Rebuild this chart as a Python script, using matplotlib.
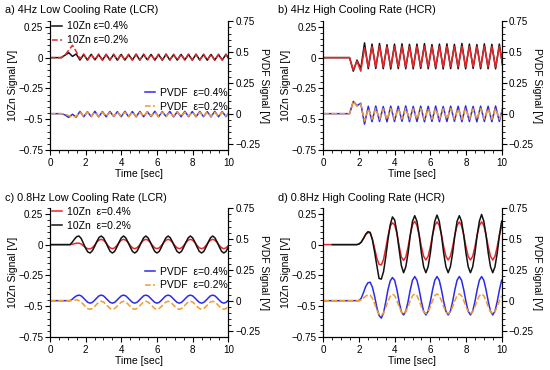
import numpy as np
import matplotlib
matplotlib.use("Agg")
import matplotlib.pyplot as plt
from matplotlib.ticker import MultipleLocator, FuncFormatter
from matplotlib.lines import Line2D

plt.rcParams['font.family'] = ['Liberation Sans', 'DejaVu Sans']
plt.rcParams['font.size'] = 7.5

# sample times (4Hz runs read every 0.21 s, 0.8Hz runs every 0.125 s)
t_fast = np.arange(49) * 0.21
t_slow = np.arange(81) * 0.125

# a) 4Hz LCR
a_zn04 = [0, 0, 0, 0, 0.02, 0.04, 0.01, 0.03, -0.02,
          0.025, -0.02, 0.027, -0.018, 0.024, -0.02, 0.026, -0.019, 0.025, -0.021,
          0.026, -0.02, 0.024, -0.019, 0.027, -0.02, 0.025, -0.018, 0.026, -0.02,
          0.025, -0.021, 0.027, -0.019, 0.024, -0.02, 0.026, -0.018, 0.025, -0.02,
          0.027, -0.019, 0.025, -0.021, 0.026, -0.02, 0.024, -0.019, 0.026, -0.02]
a_zn02 = [0, 0, 0, 0, 0.02, 0.06, 0.1, 0.05, -0.01,
          0.03, -0.02, 0.028, -0.019, 0.03, -0.021, 0.027, -0.02, 0.029, -0.018,
          0.03, -0.02, 0.028, -0.021, 0.029, -0.019, 0.03, -0.02, 0.027, -0.02,
          0.029, -0.018, 0.03, -0.02, 0.028, -0.021, 0.029, -0.019, 0.03, -0.02,
          0.028, -0.02, 0.029, -0.019, 0.03, -0.021, 0.028, -0.02, 0.029, -0.019]
a_pv04 = [0, 0, 0, 0, -0.01, -0.03, -0.005, -0.028,
          0.018, -0.025, 0.016, -0.024, 0.019, -0.026, 0.017, -0.025, 0.018, -0.023,
          0.016, -0.025, 0.019, -0.024, 0.017, -0.026, 0.018, -0.025, 0.016, -0.024,
          0.019, -0.025, 0.017, -0.023, 0.018, -0.026, 0.016, -0.025, 0.019, -0.024,
          0.017, -0.025, 0.018, -0.024, 0.016, -0.026, 0.019, -0.025, 0.017, -0.024,
          0.018]
a_pv02 = [0, 0, 0, 0, -0.005, -0.015, -0.03, -0.02,
          0.012, -0.022, 0.014, -0.021, 0.011, -0.023, 0.013, -0.022, 0.012, -0.02,
          0.014, -0.022, 0.012, -0.023, 0.013, -0.021, 0.011, -0.022, 0.014, -0.02,
          0.012, -0.022, 0.013, -0.023, 0.011, -0.021, 0.014, -0.022, 0.012, -0.02,
          0.013, -0.022, 0.012, -0.023, 0.014, -0.021, 0.011, -0.022, 0.013, -0.02,
          0.012]

# b) 4Hz HCR
b_zn_black = [0, 0, 0, 0, 0, 0, 0, 0, -0.11, -0.02, -0.09, 0.12,
              -0.09, 0.11, -0.088, 0.115, -0.09, 0.105, -0.092, 0.11, -0.089, 0.112,
              -0.09, 0.108, -0.091, 0.11, -0.088, 0.114, -0.09, 0.106, -0.09, 0.11,
              -0.092, 0.112, -0.089, 0.108, -0.09, 0.115, -0.091, 0.11, -0.088, 0.106,
              -0.09, 0.112, -0.09, 0.108, -0.091, 0.11, -0.09]
b_zn_red = [0, 0, 0, 0, 0, 0, 0, 0, -0.1, -0.03, -0.11, 0.08,
            -0.075, 0.09, -0.073, 0.092, -0.076, 0.088, -0.075, 0.09, -0.074, 0.091,
            -0.075, 0.089, -0.076, 0.09, -0.073, 0.092, -0.075, 0.088, -0.075, 0.09,
            -0.076, 0.091, -0.074, 0.089, -0.075, 0.092, -0.076, 0.09, -0.073, 0.088,
            -0.075, 0.091, -0.075, 0.089, -0.076, 0.09, -0.075]
b_pv_blue = [0, 0, 0, 0, 0, 0, 0, 0, 0.1, 0.065, 0.085, -0.085,
             0.06, -0.065, 0.062, -0.063, 0.058, -0.066, 0.061, -0.064, 0.06, -0.062,
             0.063, -0.065, 0.059, -0.064, 0.061, -0.066, 0.06, -0.063, 0.062, -0.065,
             0.058, -0.064, 0.061, -0.062, 0.06, -0.065, 0.063, -0.064, 0.059, -0.066,
             0.061, -0.063, 0.06, -0.065, 0.062, -0.064, 0.06]
b_pv_orange = [0, 0, 0, 0, 0, 0, 0, 0, 0.1, 0.06, 0.08, -0.06,
               0.04, -0.045, 0.042, -0.044, 0.039, -0.046, 0.041, -0.045, 0.04, -0.043,
               0.042, -0.045, 0.039, -0.044, 0.041, -0.046, 0.04, -0.045, 0.042, -0.044,
               0.039, -0.045, 0.041, -0.043, 0.04, -0.046, 0.042, -0.044, 0.039, -0.045,
               0.041, -0.044, 0.04, -0.046, 0.042, -0.045, 0.04]

# c) 0.8Hz LCR
c_zn04 = [0, 0, 0, 0, 0, 0, 0, 0, 0, 0,
          0.003, 0.008, 0.012, 0.012, 0.005, -0.01, -0.025, -0.033, -0.035, -0.025,
          -0.005, 0.02, 0.037, 0.043,
          0.036, 0.017, -0.007, -0.026, -0.033, -0.026, -0.007, 0.017, 0.036, 0.043,
          0.036, 0.017, -0.007, -0.026, -0.033, -0.026, -0.007, 0.017, 0.036, 0.043,
          0.036, 0.017, -0.007, -0.026, -0.033, -0.026, -0.007, 0.017, 0.036, 0.043,
          0.036, 0.017, -0.007, -0.026, -0.033, -0.026, -0.007, 0.017, 0.036, 0.043,
          0.036, 0.017, -0.007, -0.026, -0.033, -0.026, -0.007, 0.017, 0.036, 0.043,
          0.036, 0.017, -0.007, -0.026, -0.033, -0.026, -0.007]
c_zn02 = [0, 0, 0, 0, 0, 0, 0, 0, 0, 0,
          0.02, 0.045, 0.065, 0.07, 0.05, 0.01, -0.03, -0.06, -0.068, -0.05,
          -0.015, 0.025, 0.058, 0.07,
          0.055, 0.02, -0.02, -0.055, -0.068, -0.055, -0.02, 0.02, 0.055, 0.07,
          0.055, 0.02, -0.02, -0.055, -0.068, -0.055, -0.02, 0.02, 0.055, 0.07,
          0.055, 0.02, -0.02, -0.055, -0.068, -0.055, -0.02, 0.02, 0.055, 0.07,
          0.055, 0.02, -0.02, -0.055, -0.068, -0.055, -0.02, 0.02, 0.055, 0.07,
          0.055, 0.02, -0.02, -0.055, -0.068, -0.055, -0.02, 0.02, 0.055, 0.07,
          0.055, 0.02, -0.02, -0.055, -0.068, -0.055, -0.02]
c_pv04 = [0, 0, 0, 0, 0, 0, 0, 0, 0, 0,
          0.012, 0.028, 0.04, 0.045,
          0.039, 0.022, 0.003, -0.014, -0.02, -0.014, 0.003, 0.022, 0.039, 0.045,
          0.039, 0.022, 0.003, -0.014, -0.02, -0.014, 0.003, 0.022, 0.039, 0.045,
          0.039, 0.022, 0.003, -0.014, -0.02, -0.014, 0.003, 0.022, 0.039, 0.045,
          0.039, 0.022, 0.003, -0.014, -0.02, -0.014, 0.003, 0.022, 0.039, 0.045,
          0.039, 0.022, 0.003, -0.014, -0.02, -0.014, 0.003, 0.022, 0.039, 0.045,
          0.039, 0.022, 0.003, -0.014, -0.02, -0.014, 0.003, 0.022, 0.039, 0.045,
          0.039, 0.022, 0.003, -0.014, -0.02, -0.014, 0.003]
c_pv02 = [0, 0, 0, 0, 0, 0, 0, 0, 0, 0,
          0.003, 0.006, 0.006, 0.002, -0.012, -0.03, -0.05, -0.065, -0.07,
          -0.064, -0.047, -0.028, -0.011, -0.005, -0.011, -0.028, -0.047, -0.064, -0.07,
          -0.064, -0.047, -0.028, -0.011, -0.005, -0.011, -0.028, -0.047, -0.064, -0.07,
          -0.064, -0.047, -0.028, -0.011, -0.005, -0.011, -0.028, -0.047, -0.064, -0.07,
          -0.064, -0.047, -0.028, -0.011, -0.005, -0.011, -0.028, -0.047, -0.064, -0.07,
          -0.064, -0.047, -0.028, -0.011, -0.005, -0.011, -0.028, -0.047, -0.064, -0.07,
          -0.064, -0.047, -0.028, -0.011, -0.005, -0.011, -0.028, -0.047, -0.064, -0.07,
          -0.064, -0.047]

# d) 0.8Hz HCR (black trace starts at 0.5 s)
d_zn_black = [np.nan, np.nan, np.nan, np.nan, 0, 0, 0, 0, 0, 0, 0, 0, 0, 0, 0, 0,
              0.005, 0.02, 0.05, 0.085, 0.105, 0.1, 0.04, -0.06, -0.17, -0.275,
              -0.28, -0.22, -0.1, 0.04, 0.16, 0.225, 0.2, 0.1, -0.04, -0.17,
              -0.228, -0.18, -0.07, 0.075, 0.19, 0.235,
              0.19, 0.075, -0.07, -0.18, -0.228, -0.18, -0.07, 0.075, 0.19, 0.24,
              0.19, 0.075, -0.07, -0.18, -0.228, -0.18, -0.07, 0.075, 0.19, 0.235,
              0.19, 0.075, -0.07, -0.18, -0.228, -0.18, -0.07, 0.075, 0.19, 0.245,
              0.19, 0.075, -0.07, -0.18, -0.228, -0.18, -0.07, 0.075, 0.19]
d_zn_red = [0, 0, 0, 0, 0, 0, 0, 0, 0, 0, 0, 0, 0, 0, 0, 0,
            0.005, 0.02, 0.05, 0.08, 0.098, 0.095, 0.045, -0.03, -0.11, -0.16,
            -0.165, -0.12, -0.03, 0.07, 0.15, 0.177, 0.16, 0.09, -0.01, -0.1,
            -0.128, -0.1, -0.02, 0.08, 0.16, 0.19,
            0.155, 0.078, -0.018, -0.095, -0.125, -0.095, -0.018, 0.078, 0.155, 0.185,
            0.155, 0.078, -0.018, -0.095, -0.125, -0.095, -0.018, 0.078, 0.155, 0.185,
            0.155, 0.078, -0.018, -0.095, -0.125, -0.095, -0.018, 0.078, 0.155, 0.185,
            0.155, 0.078, -0.018, -0.095, -0.125, -0.095, -0.018, 0.078, 0.155]
d_pv_blue = [0, 0, 0, 0, 0, 0, 0, 0, 0, 0, 0, 0, 0, 0, 0, 0,
             0.0, 0.02, 0.065, 0.115, 0.145, 0.15, 0.11, 0.035, -0.055, -0.12,
             -0.142, -0.1, -0.01, 0.09, 0.16, 0.188, 0.165, 0.09, -0.01, -0.09, -0.116,
             -0.086, -0.008, 0.088, 0.166, 0.196, 0.166, 0.088, -0.008, -0.086, -0.116,
             -0.086, -0.008, 0.088, 0.166, 0.196, 0.166, 0.088, -0.008, -0.086, -0.116,
             -0.086, -0.008, 0.088, 0.166, 0.196, 0.166, 0.088, -0.008, -0.086, -0.116,
             -0.086, -0.008, 0.088, 0.166, 0.196, 0.166, 0.088, -0.008, -0.086, -0.116,
             -0.086, -0.008, 0.088, 0.166]
d_pv_orange = [0, 0, 0, 0, 0, 0, 0, 0, 0, 0, 0, 0, 0, 0, 0, 0,
               0, 0.005, 0.02, 0.037, 0.047, 0.045, 0.02, -0.025, -0.075, -0.11,
               -0.12, -0.1, -0.055, -0.005, 0.035, 0.054, 0.04, 0.0, -0.05, -0.09, -0.107,
               -0.09, -0.05, 0.0, 0.04, 0.055, 0.04, 0.0, -0.05, -0.09, -0.105,
               -0.09, -0.05, 0.0, 0.04, 0.055, 0.04, 0.0, -0.05, -0.09, -0.105,
               -0.09, -0.05, 0.0, 0.04, 0.055, 0.04, 0.0, -0.05, -0.09, -0.105,
               -0.09, -0.05, 0.0, 0.04, 0.055, 0.04, 0.0, -0.05, -0.09, -0.105,
               -0.09, -0.05, 0.0, 0.04]

titles = ["a) 4Hz Low Cooling Rate (LCR)", "b) 4Hz High Cooling Rate (HCR)",
          "c) 0.8Hz Low Cooling Rate (LCR)", "d) 0.8Hz High Cooling Rate (HCR)"]

BLACK = '#111111'
RED = '#e8262a'
BLUE = '#2b2bea'
ORANGE = '#f39a2c'
LW = 1.1


def fmt(v, pos):
    if abs(v) < 1e-9:
        return "0"
    return f"{v:g}".replace("-", "\u2212")


def make_panel(rect, title, tx, ty):
    ax = fig.add_axes(rect)
    ax2 = ax.twinx()
    ax.set_xlim(0, 10)
    ax.set_ylim(-0.75, 0.30)
    ax2.set_ylim(-0.295, 0.755)
    ax.set_yticks([-0.75, -0.5, -0.25, 0, 0.25])
    ax2.set_yticks([-0.25, 0, 0.25, 0.5, 0.75])
    ax.yaxis.set_minor_locator(MultipleLocator(0.05))
    ax2.yaxis.set_minor_locator(MultipleLocator(0.05))
    ax.xaxis.set_major_locator(MultipleLocator(2))
    ax.xaxis.set_minor_locator(MultipleLocator(0.5))
    ax.yaxis.set_major_formatter(FuncFormatter(fmt))
    ax2.yaxis.set_major_formatter(FuncFormatter(fmt))
    for a in (ax, ax2):
        a.spines['top'].set_visible(False)
        a.tick_params(which='major', length=3.5, width=0.8, pad=1.5, labelsize=7.1)
        a.tick_params(which='minor', length=2, width=0.6)
    ax.tick_params(axis='x', pad=2.5)
    ax.set_xlabel("Time [sec]", fontsize=7.5, labelpad=0.5)
    ax.set_ylabel("10Zn Signal [V]", fontsize=7.5, labelpad=0)
    ax2.set_ylabel("PVDF Signal [V]", fontsize=7.5, rotation=270, labelpad=-1,
                   va='bottom')
    fig.text(tx, ty, title, fontsize=7.8, ha='left', va='center')
    return ax, ax2


def legend_pair(a, handles, labels, loc, anchor):
    a.legend(handles, labels, loc=loc, bbox_to_anchor=anchor, frameon=False,
             fontsize=7.5, handlelength=0.95, handletextpad=0.45,
             labelspacing=0.38, borderaxespad=0, borderpad=0.0)


fig = plt.figure(figsize=(5.5, 3.7), dpi=100)

# a
ax, ax2 = make_panel([0.0909, 0.5946, 0.3242, 0.3495], titles[0], 0.009, 0.972)
ax.plot(t_fast, a_zn04, color=BLACK, lw=LW)
ax.plot(t_fast, a_zn02, color=RED, lw=LW, ls='--')
ax2.plot(t_fast, a_pv04, color=BLUE, lw=LW)
ax2.plot(t_fast, a_pv02, color=ORANGE, lw=LW, ls='--')
h1 = [Line2D([], [], color=BLACK, lw=LW), Line2D([], [], color=RED, lw=LW, ls='--')]
legend_pair(ax, h1, ["10Zn \u03b5=0.4%", "10Zn \u03b5=0.2%"], 'upper left', (0.012, 0.995))
h2 = [Line2D([], [], color=BLUE, lw=LW), Line2D([], [], color=ORANGE, lw=LW, ls='--')]
legend_pair(ax2, h2, ["PVDF  \u03b5=0.4%", "PVDF  \u03b5=0.2%"], 'upper right', (0.995, 0.48))

# b
ax, ax2 = make_panel([0.5879, 0.5946, 0.3242, 0.3495], titles[1], 0.506, 0.972)
ax.plot(t_fast, b_zn_black, color=BLACK, lw=LW)
ax.plot(t_fast, b_zn_red, color=RED, lw=LW)
ax2.plot(t_fast, b_pv_blue, color=BLUE, lw=LW)
ax2.plot(t_fast, b_pv_orange, color=ORANGE, lw=LW, ls='--')

# c
ax, ax2 = make_panel([0.0909, 0.0892, 0.3242, 0.3495], titles[2], 0.009, 0.466)
ax.plot(t_slow, c_zn04, color=RED, lw=LW)
ax.plot(t_slow, c_zn02, color=BLACK, lw=LW)
ax2.plot(t_slow, c_pv04, color=BLUE, lw=LW)
ax2.plot(t_slow, c_pv02, color=ORANGE, lw=LW, ls='--')
h1 = [Line2D([], [], color=RED, lw=LW), Line2D([], [], color=BLACK, lw=LW)]
legend_pair(ax, h1, ["10Zn  \u03b5=0.4%", "10Zn  \u03b5=0.2%"], 'upper left', (0.012, 1.005))
legend_pair(ax2, h2, ["PVDF  \u03b5=0.4%", "PVDF  \u03b5=0.2%"], 'upper right', (0.995, 0.545))

# d
ax, ax2 = make_panel([0.5879, 0.0892, 0.3242, 0.3495], titles[3], 0.506, 0.466)
ax.plot(t_slow, d_zn_red, color=RED, lw=LW)
ax.plot(t_slow, d_zn_black, color=BLACK, lw=LW)
ax2.plot(t_slow, d_pv_blue, color=BLUE, lw=LW)
ax2.plot(t_slow, d_pv_orange, color=ORANGE, lw=LW, ls='--')

fig.savefig("out.png", dpi=100)
